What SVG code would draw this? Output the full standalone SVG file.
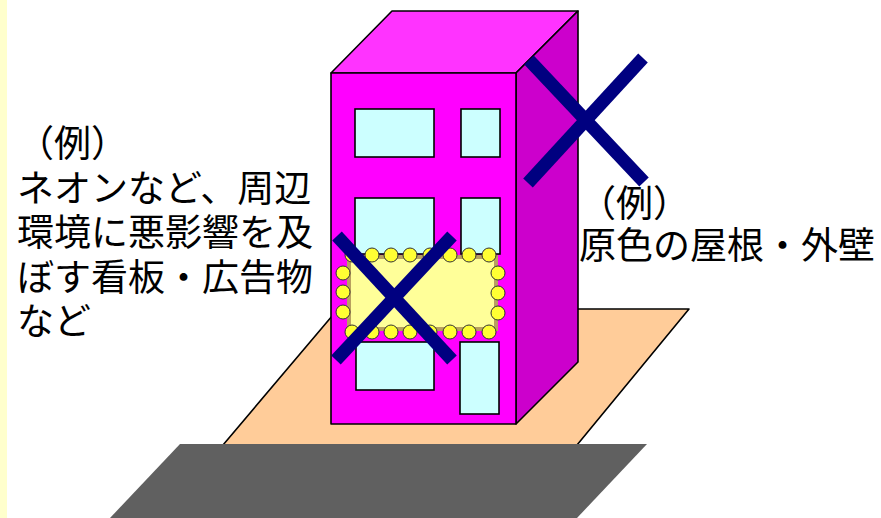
<svg xmlns="http://www.w3.org/2000/svg" width="881" height="518" viewBox="0 0 881 518">
  <style>
    .edge { stroke: #000; stroke-width: 1.6; stroke-linejoin: round; }
    .win { fill: #CCFFFF; stroke: #000; stroke-width: 1.6; }
    .bulb { fill: #FFFF33; stroke: #333; stroke-width: 1; }
    .cross { stroke: #000080; stroke-width: 13; stroke-linecap: butt; fill: none; }
    .label { font-family: "Noto Sans CJK JP", "Noto Sans", sans-serif; font-size: 37px; fill: #000; }
  </style>

  <rect x="0" y="0" width="881" height="518" fill="#FFFFFF"/>
  <!-- pale strip along the left edge -->
  <rect x="0" y="0" width="7" height="518" fill="#FFFFCC"/>

  <!-- ground: lot and road -->
  <g id="lot">
    <polygon points="338,309 689,309 577,445 223,445" fill="#FFCC99" class="edge"/>
  </g>
  <g id="road">
    <polygon points="180,444 647,444 577,518 110,518" fill="#606060"/>
  </g>

  <!-- building -->
  <g id="building">
    <polygon points="331,73 392,11 578,11 516,73" fill="#FF33FF" class="edge"/>
    <polygon points="516,73 578,11 578,362 516,424" fill="#CC00CC" class="edge"/>
    <rect x="331" y="73" width="185" height="351" fill="#FF00FF" class="edge"/>
    <rect class="win" x="355" y="109" width="79" height="48"/>
    <rect class="win" x="461" y="109" width="39" height="48"/>
    <rect class="win" x="355" y="198" width="79" height="56"/>
    <rect class="win" x="461" y="198" width="39" height="56"/>
    <rect class="win" x="356" y="342" width="78" height="48"/>
    <rect class="win" x="460" y="342" width="39" height="72"/>
  </g>

  <!-- illuminated sign -->
  <g id="sign">
    <rect x="349" y="257" width="147" height="72" fill="#FFFF99" stroke="#B8A060" stroke-width="4"/>
    <g id="bulbs">
      <circle class="bulb" cx="352" cy="255" r="7"/>
      <circle class="bulb" cx="372" cy="255" r="7"/>
      <circle class="bulb" cx="391" cy="255" r="7"/>
      <circle class="bulb" cx="410" cy="255" r="7"/>
      <circle class="bulb" cx="430" cy="255" r="7"/>
      <circle class="bulb" cx="450" cy="255" r="7"/>
      <circle class="bulb" cx="469" cy="255" r="7"/>
      <circle class="bulb" cx="489" cy="255" r="7"/>
      <circle class="bulb" cx="352" cy="332" r="7"/>
      <circle class="bulb" cx="372" cy="332" r="7"/>
      <circle class="bulb" cx="391" cy="332" r="7"/>
      <circle class="bulb" cx="410" cy="332" r="7"/>
      <circle class="bulb" cx="430" cy="332" r="7"/>
      <circle class="bulb" cx="450" cy="332" r="7"/>
      <circle class="bulb" cx="469" cy="332" r="7"/>
      <circle class="bulb" cx="489" cy="332" r="7"/>
      <circle class="bulb" cx="343" cy="273" r="7"/>
      <circle class="bulb" cx="343" cy="292" r="7"/>
      <circle class="bulb" cx="343" cy="312" r="7"/>
      <circle class="bulb" cx="498" cy="273" r="7"/>
      <circle class="bulb" cx="498" cy="293" r="7"/>
      <circle class="bulb" cx="498" cy="313" r="7"/>
    </g>
  </g>

  <!-- cross marks -->
  <g id="cross-wall">
    <line class="cross" x1="529" y1="60" x2="644" y2="182"/>
    <line class="cross" x1="643" y1="58" x2="528" y2="183"/>
  </g>
  <g id="cross-sign">
    <line class="cross" x1="337" y1="236" x2="452" y2="360"/>
    <line class="cross" x1="452" y1="236" x2="336" y2="360"/>
  </g>

  <!-- captions -->
  <g id="label-sign">
    <text class="label" x="17" y="157">（例）</text>
    <text class="label" x="17" y="202">ネオンなど、周辺</text>
    <text class="label" x="17" y="246">環境に悪影響を及</text>
    <text class="label" x="17" y="291">ぼす看板・広告物</text>
    <text class="label" x="17" y="335">など</text>
  </g>
  <g id="label-wall">
    <text class="label" x="579" y="217">（例）</text>
    <text class="label" x="579" y="259">原色の屋根・外壁</text>
  </g>
</svg>
